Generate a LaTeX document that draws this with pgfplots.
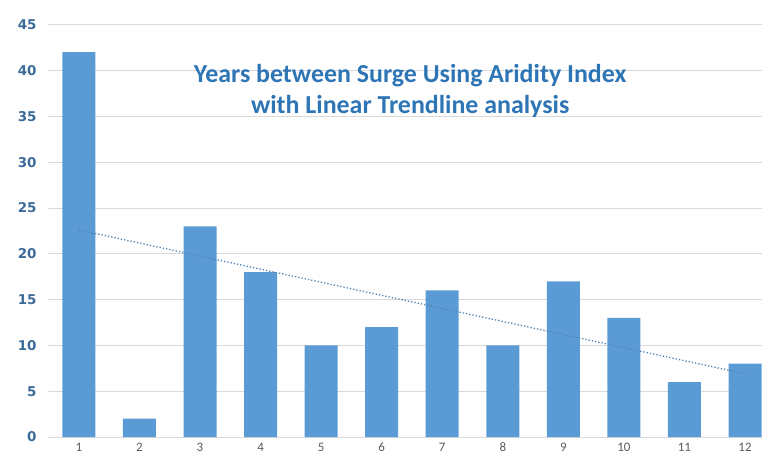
\documentclass[border=0pt]{standalone}
\usepackage{fontspec}
\setmainfont{Carlito}
\newfontfamily\numfont{DejaVu Sans}
\usepackage{pgfplots}
\pgfplotsset{compat=1.18}
\definecolor{barblue}{HTML}{5B9BD5}
\definecolor{titleblue}{HTML}{2E75B6}
\definecolor{ylab}{HTML}{3B6A98}
\definecolor{xlab}{HTML}{595959}
\definecolor{gridc}{HTML}{D9D9D9}
\begin{document}
\begin{tikzpicture}[x=1bp,y=1bp]
\useasboundingbox (-48bp,-26bp) rectangle (714bp,437bp);
\begin{axis}[
  scale only axis,
  width=714bp, height=437bp,
  anchor=south west, at={(0,0)},
  xmin=0.49, xmax=12.28,
  ymin=0, ymax=47.7,
  axis line style={draw=none},
  ytick={0,5,...,45},
  xtick={1,...,12},
  major tick length=0pt,
  ymajorgrids, grid style={gridc, line width=0.8bp},
  /pgf/number format/assume math mode=true,
  yticklabel style={font=\numfont\bfseries\fontsize{13.5}{15}\selectfont, text=ylab, xshift=-8bp},
  xticklabel style={font=\fontsize{13}{14}\selectfont, text=xlab, text height=9bp, text depth=0bp, yshift=-2bp},
  clip=false,
]
\addplot[ybar, bar width=33bp, fill=barblue, draw=none] coordinates {
  (1,42) (2,2) (3,23) (4,18) (5,10) (6,12) (7,16) (8,10) (9,17) (10,13) (11,6) (12,8)
};
\addplot[barblue!85!black, line width=1.3bp, dash pattern=on 1.3bp off 2bp] coordinates {
  (1,22.6) (12,6.9)
};
\node[font=\bfseries\fontsize{26}{31}\selectfont, text=titleblue, align=center] at (axis cs:6.47,37.8) {Years between Surge Using Aridity Index\\with Linear Trendline analysis};
\end{axis}
\end{tikzpicture}
\end{document}
